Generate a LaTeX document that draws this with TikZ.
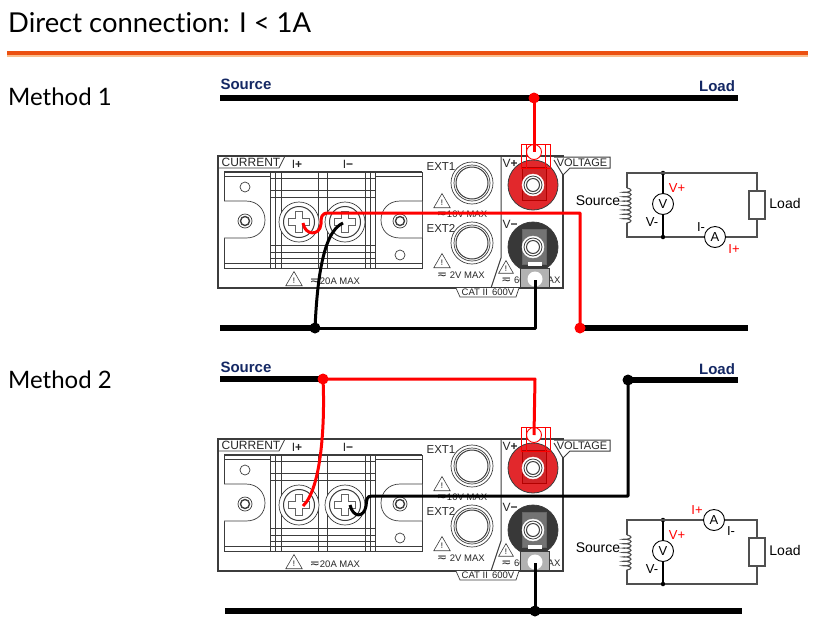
\documentclass[tikz,border=0pt]{standalone}
\usepackage{fontspec}
\setmainfont{Liberation Sans}
\newfontfamily\headfont[Ligatures=NoCommon]{Lato}
\newfontfamily\symfont{DejaVu Sans}
\usetikzlibrary{shapes.geometric,decorations.pathmorphing}
\definecolor{navy}{RGB}{20,40,100}
\definecolor{panelgrey}{RGB}{60,60,60}
\definecolor{rulered}{RGB}{236,80,16}
\definecolor{rulepale}{RGB}{250,190,140}
\definecolor{wirered}{RGB}{255,0,0}
\definecolor{postred}{RGB}{226,40,44}
\definecolor{circgrey}{RGB}{80,80,80}
\newcommand{\fsize}[1]{\fontsize{#1}{#1}\selectfont}
\newcommand{\acsym}{{\symfont\fsize{12}≂}}
\tikzset{
  panelline/.style={draw=panelgrey,line width=.7pt},
  paneltxt/.style={inner sep=0pt,text=black!85,font=\fsize{9.5}},
  warntri/.style={regular polygon,regular polygon sides=3,draw=panelgrey,line width=.6pt,inner sep=0pt,minimum size=19pt,font=\fsize{8}},
  heading/.style={inner sep=0pt,anchor=west,font=\headfont\fsize{24}},
  buslabel/.style={inner sep=0pt,text=navy,font=\bfseries\fsize{15}},
  bus/.style={line width=6pt},
  wire/.style={line width=3pt,line join=round},
  wiredot/.style={circle,fill=#1,inner sep=0pt,minimum size=11pt},
  circline/.style={draw=circgrey,line width=1.1pt},
  coilline/.style={circline,decorate,decoration={coil,aspect=.25,segment length=4.4pt,amplitude=4pt}},
  circdot/.style={circle,fill=black,inner sep=0pt,minimum size=4.5pt},
  meter/.style={circle,draw=black,fill=white,line width=.9pt,inner sep=0pt,minimum size=21pt,font=\fsize{13}},
  loadbox/.style={rectangle,draw=circgrey,fill=white,line width=1.1pt,inner sep=0pt,minimum width=16pt,minimum height=28pt},
  circtxt/.style={inner sep=0pt,font=\fsize{14}},
  redtxt/.style={inner sep=0pt,text=wirered,font=\fsize{13}},
  blktxt/.style={inner sep=0pt,font=\fsize{13}}
}
% front panel, #1 = prefix of the names, drawn at the scope origin
\newcommand{\meterpanel}[1]{
  \draw[panelline,line width=1.2pt] (218,156) rectangle (563,288);
  \draw[panelline] (285,156) -- (279,168) -- (218,168);
  \node (#1cur) [paneltxt,font=\fsize{12}] at (251,162) {CURRENT};
  \node (#1ip) [paneltxt,font=\fsize{12}] at (297,164) {I\textbf{+}};
  \node (#1im) [paneltxt,font=\fsize{12}] at (348,164) {I\textbf{−}};
  % terminal block
  \draw[panelline,line width=1.1pt] (224,172) -- (422,172);
  \draw[panelline] (224,172) -- (224,268) -- (422,268) -- (422,172);
  \foreach \xx in {270,275,281,318,327,365,370,375}
    \draw[panelline] (\xx,172) -- (\xx,268);
  \foreach \yy in {178,190,197,245,252,258,263}
    \draw[panelline] (270,\yy) -- (375,\yy);
  \draw[panelline] (224,176) -- (270,176) (224,263) -- (270,263) (375,176) -- (422,176) (375,263) -- (422,263);
  \draw[panelline,fill=white] (224,201) -- (246,201) .. controls (258,201) and (265,210) .. (265,220) .. controls (265,230) and (258,238) .. (246,238) -- (224,238);
  \draw[panelline,fill=white] (422,201) -- (400,201) .. controls (388,201) and (381,210) .. (381,220) .. controls (381,230) and (388,238) .. (400,238) -- (422,238);
  \draw[panelline] (245,187) circle (5);
  \draw[panelline] (400,255) circle (5);
  \foreach \xx in {245,400} {
    \draw[panelline,fill=white] (\xx,221) circle (7);
    \draw[panelline,line width=1.4pt] (\xx,221) circle (4.5);
  }
  \foreach \xx in {299,345} {
    \draw[panelline,fill=white] (\xx,222) circle (20);
    \draw[panelline,line width=1pt] (\xx,222) circle (15.5);
    \draw[panelgrey!80,line width=7.6pt] (\xx-11,222) -- (\xx+11,222) (\xx,211) -- (\xx,233);
    \draw[white,line width=6pt] (\xx-10.2,222) -- (\xx+10.2,222) (\xx,211.8) -- (\xx,232.2);
  }
  \node (#1warnc) [warntri] at (294,281) {!};
  \node (#1amax) [paneltxt] at (335,281) {\acsym 20A MAX};
  % EXT inputs
  \node (#1ext1) [paneltxt,font=\fsize{11.5}] at (441,167) {EXT1};
  \node (#1ext2) [paneltxt,font=\fsize{11.5}] at (441,228) {EXT2};
  \foreach \yy in {183,243} {
    \draw[panelline,fill=white] (472,\yy) circle (21);
    \draw[panelline] (472,\yy) circle (18);
    \draw[panelline,line width=1pt] (472,\yy) circle (16);
  }
  \node (#1warn1) [warntri] at (442,203) {!};
  \node (#1warn2) [warntri] at (442,263) {!};
  \node (#1max1) [paneltxt] at (462,214) {\acsym 10V MAX};
  \node (#1max2) [paneltxt] at (461,275) {\acsym\ 2V MAX};
  % voltage side
  \draw[panelline,line width=1pt] (501,156) -- (501,258) -- (491,288);
  \node (#1vp) [paneltxt,font=\fsize{12}] at (510,163) {V\textbf{+}};
  \node (#1vm) [paneltxt,font=\fsize{12}] at (510,224) {V\textbf{−}};
  \draw[draw=none,fill=white] (554,157) -- (610,157) -- (610,168) -- (570,168) -- (563,175) -- cycle;
  \draw[panelline,line width=1pt] (554,157) -- (610,157) -- (610,168) -- (570,168) -- (563,175) -- (554,160);
  \node (#1volt) [paneltxt,font=\fsize{11}] at (582,163) {VOLTAGE};
  \draw[panelline,fill=white] (456,288) -- (460,297) -- (516,297) -- (519,288);
  \node (#1cat) [paneltxt] at (488,292) {CAT II\, 600V};
  \node (#1warn3) [warntri,minimum size=17pt] at (506,269) {!};
  \node (#1max3) [paneltxt] at (513,280) {\acsym\ 60};
  \node (#1max4) [paneltxt] at (554,280) {AX};
  % V+ post
  \draw[panelgrey,fill=postred,line width=.8pt] (533,185) circle (25);
  \draw[red!70!black,fill=postred!92!black] (522,167) rectangle (546,200);
  \draw[white,fill=white] (533,185) circle (11);
  \draw[panelline,line width=.8pt] (533,185) circle (9);
  \draw[panelline,line width=1pt] (533,185) circle (6.5);
  \draw[wirered,line width=.9pt] (521,168) -- (521,144) -- (550,144) -- (550,168) -- cycle (526,144) -- (526,168) (545,144) -- (545,168);
  \draw[wirered,fill=white,line width=.9pt] (534,152) circle (7.5);
  % V- post
  \draw[panelgrey,fill=black!78,line width=.8pt] (533,247) circle (25);
  \draw[black!60,fill=black!55] (522,229) rectangle (546,264);
  \draw[white,fill=white] (533,247) circle (11);
  \draw[panelline,line width=.8pt] (533,247) circle (9);
  \draw[panelline,line width=1pt] (533,247) circle (6.5);
  \draw[draw=none,fill=white] (528,262) rectangle (542,266);
  \draw[panelline,fill=black!30,line width=1pt] (520,268) rectangle (549,287);
  \draw[draw=none,fill=white] (535,279) circle (7.5);
  % ends of the wires
  \coordinate (#1redlug) at (534,152);
  \coordinate (#1blklug) at (535,280);
  \coordinate (#1screwp) at (303,223);
  \coordinate (#1screwm) at (343,223);
}
\begin{document}
\begin{tikzpicture}[x=1pt,y=-1pt]
\useasboundingbox (0,0) rectangle (827,622);
\node (title) [heading,font=\headfont\fsize{27.4}] at (8,23) {Direct connection: I < 1A};
\fill[rulepale] (7,54) rectangle (808,57);
\fill[rulered] (7,51) rectangle (808,55);
\node (meth1) [heading] at (8,97) {Method 1};
\node (meth2) [heading] at (8,380) {Method 2};

% Method 1
\meterpanel{a}
\node (asrc) [buslabel] at (246,84) {Source};
\node (aload) [buslabel] at (717,86) {Load};
\coordinate (atl) at (220,98);
\coordinate (atr) at (738,98);
\coordinate (abl) at (220,328);
\coordinate (abr) at (748,328);
\coordinate (abc) at (535,328);
\coordinate (ajv) at (534,98);
\coordinate (aji) at (315,328);
\coordinate (ajl) at (580,328);
\draw[bus] (atl) -- (atr);
\draw[bus] (abl) -- (aji);
\draw[bus] (ajl) -- (abr);
\draw[wire] (aji) -- (abc) -- (ablklug);
\draw[wire] (aji) .. controls (317,285) and (322,232) .. (ascrewm);
\draw[wire,wirered] (ajv) -- (aredlug);
\draw[wire,wirered] (ajl) -- (580,213) -- (328,213) .. controls (321,213) and (321,218) .. (321,224) .. controls (320,236) and (305,236) .. (ascrewp);
\node (adotv) [wiredot=wirered] at (ajv) {};
\node (adoti) [wiredot=black] at (aji) {};
\node (adotl) [wiredot=wirered] at (ajl) {};

% circuit of method 1
\coordinate (at1) at (627,173);
\coordinate (at2) at (757,173);
\coordinate (ab1) at (627,237);
\coordinate (ab2) at (757,237);
\coordinate (ac1) at (627,188);
\coordinate (ac2) at (627,223);
\node (atd) [circdot] at (663,173) {};
\node (abd) [circdot] at (663,237) {};
\draw[circline] (ac2) -- (ab1) -- (abd) -- (ab2) -- (at2) -- (at1) -- (ac1);
\draw[coilline] (ac1) -- (ac2);
\draw[circline,draw=black] (atd) -- (abd);
\node (avm) [meter] at (663,204) {V};
\node (aam) [meter] at (715,237) {A};
\node (arl) [loadbox] at (757,205) {};
\node (acs) [circtxt] at (598,201) {Source};
\node (acl) [circtxt] at (785,203) {Load};
\node (avp) [redtxt] at (677,188) {V+};
\node (avn) [blktxt] at (652,222) {V-};
\node (ain) [blktxt] at (701,227) {I-};
\node (aip) [redtxt] at (734,249) {I+};

% Method 2
\begin{scope}[shift={(0,283)}]
\meterpanel{b}
\end{scope}
\node (bsrc) [buslabel] at (246,367) {Source};
\node (bload) [buslabel] at (717,369) {Load};
\coordinate (btl) at (220,379);
\coordinate (btr) at (738,380);
\coordinate (bbl) at (225,611);
\coordinate (bbr) at (742,611);
\coordinate (bjs) at (323,379);
\coordinate (bjl) at (628,380);
\coordinate (bjb) at (535,611);
\coordinate (bhook) at (350,505);
\draw[bus] (btl) -- (bjs);
\draw[bus] (bjl) -- (btr);
\draw[bus] (bbl) -- (bbr);
\draw[wire] (bjb) -- (bblklug);
\draw[wire,wirered] (bjs) -- (535,379) -- (bredlug);
\draw[wire,wirered] (bjs) .. controls (325,420) and (322,488) .. (bscrewp);
\draw[wire] (bjl) -- (628,496) -- (372,496) .. controls (366,496) and (367,500) .. (366,506) .. controls (364,518) and (353,518) .. (bhook);
\node (bdots) [wiredot=wirered] at (bjs) {};
\node (bdotl) [wiredot=black] at (bjl) {};
\node (bdotb) [wiredot=black] at (bjb) {};

% circuit of method 2
\coordinate (bt1) at (627,520);
\coordinate (bt2) at (757,520);
\coordinate (bb1) at (627,584);
\coordinate (bb2) at (757,584);
\coordinate (bc1) at (627,535);
\coordinate (bc2) at (627,570);
\node (btd) [circdot] at (663,520) {};
\node (bbd) [circdot] at (663,584) {};
\draw[circline] (bc2) -- (bb1) -- (bbd) -- (bb2) -- (bt2) -- (bt1) -- (bc1);
\draw[coilline] (bc1) -- (bc2);
\draw[circline,draw=black] (btd) -- (bbd);
\node (bvm) [meter] at (663,551) {V};
\node (bam) [meter] at (714,520) {A};
\node (brl) [loadbox] at (757,552) {};
\node (bcs) [circtxt] at (598,548) {Source};
\node (bcl) [circtxt] at (785,550) {Load};
\node (bvp) [redtxt] at (677,535) {V+};
\node (bvn) [blktxt] at (652,569) {V-};
\node (bin) [blktxt] at (731,531) {I-};
\node (bip) [redtxt] at (697,510) {I+};
\end{tikzpicture}
\end{document}
